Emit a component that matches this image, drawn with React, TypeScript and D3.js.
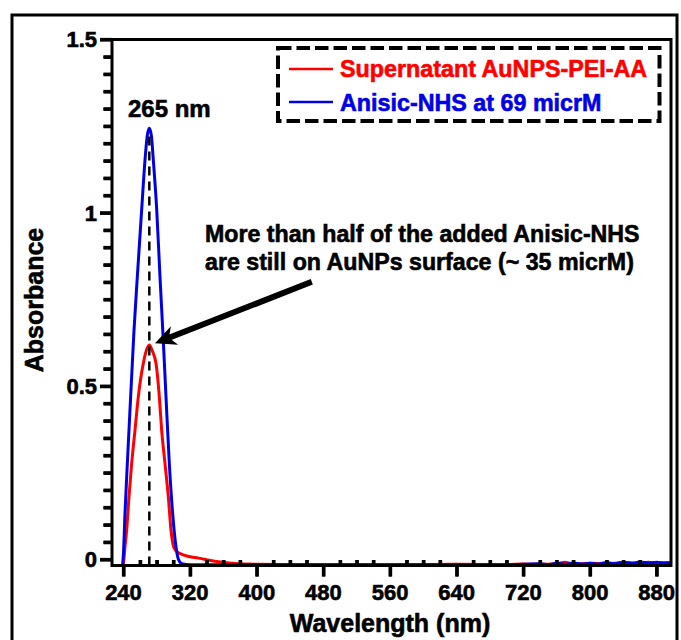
import React, { useEffect, useRef } from 'react';
import * as d3 from 'd3';

// ---- data ----
const blueWl = [239, 240, 241.8, 244.6, 248.6, 252.6, 256.6, 261.8, 265.8, 268.5, 271, 273.5, 275.8, 279.9, 283.8, 287.8, 291, 295, 299, 303, 306, 310, 320, 360, 400, 480, 560, 640, 700, 720, 740, 750, 760, 770, 780, 790, 800, 810, 820, 830, 840, 850, 860, 870, 880, 890, 897];
const blueAbs = [-0.015, 0.02, 0.133, 0.277, 0.47, 0.66, 0.816, 1.008, 1.152, 1.222, 1.244, 1.222, 1.152, 1.008, 0.816, 0.63, 0.47, 0.277, 0.133, 0.037, 0.0, -0.012, -0.015, -0.015, -0.015, -0.015, -0.015, -0.015, -0.015, -0.014, -0.012, -0.015, -0.011, -0.014, -0.01, -0.013, -0.011, -0.013, -0.009, -0.012, -0.008, -0.011, -0.007, -0.01, -0.008, -0.01, -0.009];

const redWl = [239.5, 240.5, 241.8, 243.8, 246.6, 249.8, 253.8, 257.8, 263.8, 268, 271, 274, 279, 283, 285.8, 289.8, 293.8, 297, 299.8, 302, 305, 310, 316, 330, 352, 370, 400, 480, 560, 640, 700, 720, 740, 760, 770, 780, 800, 820, 840, 860, 870, 880, 897];
const redAbs = [-0.015, 0.0, 0.037, 0.085, 0.181, 0.277, 0.373, 0.47, 0.566, 0.607, 0.619, 0.605, 0.566, 0.47, 0.373, 0.277, 0.181, 0.085, 0.04, 0.028, 0.021, 0.015, 0.01, 0.004, -0.006, -0.011, -0.014, -0.015, -0.015, -0.014, -0.015, -0.013, -0.014, -0.012, -0.008, -0.013, -0.011, -0.012, -0.009, -0.011, -0.008, -0.01, -0.009];

const xTickValues = [240, 320, 400, 480, 560, 640, 720, 800, 880];
const yTickValues = [0, 0.5, 1, 1.5];
const yTickLabels = ['0', '0.5', '1', '1.5'];

const seriesNames = ['Supernatant AuNPS-PEI-AA', 'Anisic-NHS at 69 micrM'];
const seriesColors = ['#ff0000', '#0000e6'];

const peakWl = 271;
const peakLabel = '265 nm';
const noteLines = ['More than half of the added Anisic-NHS', 'are still on AuNPs surface (~ 35 micrM)'];
const arrowFrom = [466, 0.801];
const arrowTo = [277.8, 0.624];

const W = 681;
const H = 640;
const L = 112, R = 671, T = 39.5, B = 565.5;

export default function App() {
  const tickRef = useRef<SVGGElement | null>(null);
  const x = d3.scaleLinear().domain([226.2, 897.2]).range([L, R]);
  const y = d3.scaleLinear().domain([-0.01731, 1.5]).range([B, T]);

  const line = d3
    .line<[number, number]>()
    .x((d) => x(d[0]))
    .y((d) => y(d[1]))
    .curve(d3.curveMonotoneX);

  const blue: [number, number][] = blueWl.map((w, i) => [w, blueAbs[i]]);
  const red: [number, number][] = redWl.map((w, i) => [w, redAbs[i]]);

  const xMinor = d3.range(240, 897, 20).filter((v) => xTickValues.indexOf(v) < 0);
  const yMinor = d3
    .range(0, 31)
    .map((k) => k * 0.05)
    .filter((v) => yTickValues.every((t) => Math.abs(t - v) > 1e-6));

  useEffect(() => {
    if (!tickRef.current) return;
    const g = d3.select(tickRef.current);
    g.selectAll('*').remove();
    // y axis (outward major + minor)
    const yAxisMajor = d3.axisLeft(y).tickValues(yTickValues).tickSize(12).tickFormat(() => '');
    const yAxisMinor = d3.axisLeft(y).tickValues(yMinor).tickSize(8.5).tickFormat(() => '');
    const xAxisMajor = d3.axisBottom(x).tickValues(xTickValues).tickSize(11).tickFormat(() => '');
    const xAxisMinor = d3.axisTop(x).tickValues(xMinor).tickSize(5.5).tickFormat(() => '');
    const gy1 = g.append('g').attr('transform', `translate(${L},0)`).call(yAxisMajor);
    const gy2 = g.append('g').attr('transform', `translate(${L},0)`).call(yAxisMinor);
    const gx1 = g.append('g').attr('transform', `translate(0,${B})`).call(xAxisMajor);
    const gx2 = g.append('g').attr('transform', `translate(0,${B})`).call(xAxisMinor);
    [gy1, gy2, gx1, gx2].forEach((a) => {
      a.select('.domain').remove();
      a.selectAll('line').attr('stroke', '#000').attr('stroke-width', 3.2);
    });
  });

  // arrow geometry
  const ax0 = x(arrowFrom[0]), ay0 = y(arrowFrom[1]);
  const ax1 = x(arrowTo[0]), ay1 = y(arrowTo[1]);
  const len = Math.hypot(ax1 - ax0, ay1 - ay0);
  const ux = (ax1 - ax0) / len, uy = (ay1 - ay0) / len;
  const px = -uy, py = ux;
  const headL = 21, headW = 10, notch = 15;
  const bx = ax1 - ux * headL, by = ay1 - uy * headL;
  const nx = ax1 - ux * notch, ny = ay1 - uy * notch;
  const headPts = [
    [ax1, ay1],
    [bx + px * headW, by + py * headW],
    [nx, ny],
    [bx - px * headW, by - py * headW],
  ]
    .map((p) => p.join(','))
    .join(' ');

  const font = 'Liberation Sans, Arial, Helvetica, sans-serif';
  const ts = 0.6;

  return (
    <svg
      width={W}
      height={H}
      style={{ position: 'absolute', left: 0, top: 0, background: '#fff' }}
      fontFamily={font}
      fontWeight="bold"
    >
      <rect x={0} y={0} width={W} height={H} fill="#fff" />
      <rect x={12} y={15} width={665} height={660} fill="none" stroke="#000" strokeWidth={3} />

      <path d={line(red) || ''} fill="none" stroke={seriesColors[0]} strokeWidth={3} />
      <path d={line(blue) || ''} fill="none" stroke={seriesColors[1]} strokeWidth={3} />

      <line
        x1={x(peakWl)}
        x2={x(peakWl)}
        y1={y(1.22)}
        y2={B}
        stroke="#000"
        strokeWidth={2.5}
        strokeDasharray="9,6"
      />
      <text x={128} y={117} fontSize={24} fill="#000" stroke="#000" strokeWidth={ts}>
        {peakLabel}
      </text>

      <rect x={L} y={T} width={R - L} height={B - T} fill="none" stroke="#000" strokeWidth={3} />

      {/* ticks as filled rects */}
      {yTickValues.map((v) => (
        <rect key={'ytk' + v} x={L - 12} y={y(v) - 1.6} width={12} height={3.2} fill="#000" />
      ))}
      {yMinor.map((v) => (
        <rect key={'ymk' + v} x={L - 8.5} y={y(v) - 1.6} width={8.5} height={3.2} fill="#000" />
      ))}
      {xTickValues.map((v) => (
        <rect key={'xtk' + v} x={x(v) - 1.6} y={B} width={3.2} height={11} fill="#000" />
      ))}
      {xMinor.map((v) => (
        <rect key={'xmk' + v} x={x(v) - 1.6} y={B - 5.5} width={3.2} height={5.5} fill="#000" />
      ))}
      <g ref={tickRef} />

      {yTickValues.map((v, i) => (
        <text key={'yl' + i} x={97} y={y(v)} dy="0.36em" textAnchor="end" fontSize={22} fill="#000" stroke="#000" strokeWidth={ts}>
          {yTickLabels[i]}
        </text>
      ))}
      {xTickValues.map((v) => (
        <text key={'xl' + v} x={x(v)} y={600} textAnchor="middle" fontSize={22} fill="#000" stroke="#000" strokeWidth={ts}>
          {v}
        </text>
      ))}

      <text x={390} y={632} textAnchor="middle" fontSize={25} fill="#000" stroke="#000" strokeWidth={ts}>
        Wavelength (nm)
      </text>
      <text transform="translate(43,300) rotate(-90)" textAnchor="middle" fontSize={25} fill="#000" stroke="#000" strokeWidth={ts}>
        Absorbance
      </text>

      <rect x={278} y={48} width={381.5} height={73} fill="none" stroke="#000" strokeWidth={4} strokeDasharray="13.5,5" />
      {seriesNames.map((name, i) => (
        <g key={name}>
          <line x1={289} x2={333} y1={69 + i * 33} y2={69 + i * 33} stroke={seriesColors[i]} strokeWidth={2.5} />
          <text x={340} y={77 + i * 33.5} fontSize={23.3} fill={seriesColors[i]} stroke={seriesColors[i]} strokeWidth={ts}>
            {name}
          </text>
        </g>
      ))}

      {noteLines.map((t, i) => (
        <text key={t} x={205} y={242 + i * 28} fontSize={23.2} fill="#000" stroke="#000" strokeWidth={ts}>
          {t}
        </text>
      ))}
      <line x1={ax0} y1={ay0} x2={nx} y2={ny} stroke="#000" strokeWidth={6} />
      <polygon points={headPts} fill="#000" />
    </svg>
  );
}
